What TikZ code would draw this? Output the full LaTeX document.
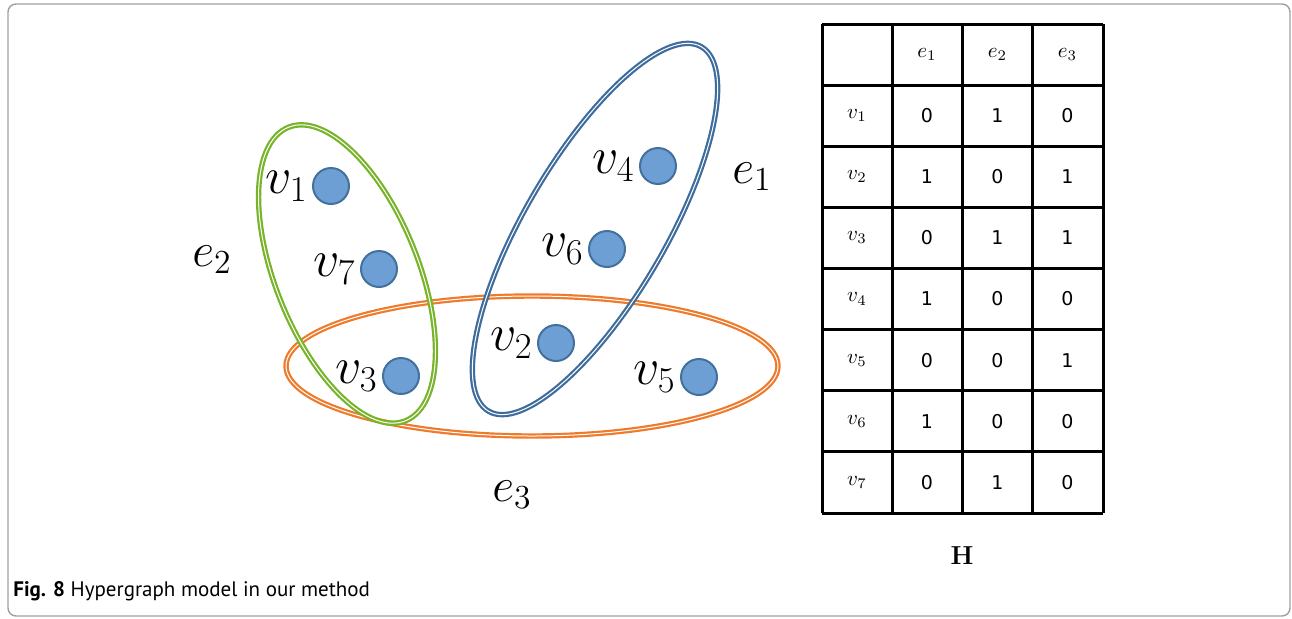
\RequirePackage{fix-cm}
\documentclass[tikz,border=0pt]{standalone}
\usepackage{fontspec}
\usepackage{tikz}
\usetikzlibrary{positioning}
\newfontfamily\capfont{PT Sans}
\newfontfamily\cellfont{DejaVu Sans}
\definecolor{VertexBlue}{HTML}{6E9FD4}
\definecolor{VertexLine}{HTML}{41719C}
\definecolor{EdgeGreen}{HTML}{78B42A}
\definecolor{EdgeBlue}{HTML}{3E6C9C}
\definecolor{EdgeOrange}{HTML}{EE7B2C}

\begin{document}
\begin{tikzpicture}[
    x=0.5pt,
    y=-0.5pt,
    vertex/.style={
        circle,
        fill=VertexBlue,
        draw=VertexLine,
        line width=1pt,
        minimum size=18pt,
        inner sep=0pt
    },
    vlabel/.style={
        inner sep=0pt,
        font=\fontsize{26}{30}\selectfont
    },
    elabel/.style={
        inner sep=0pt,
        font=\fontsize{24}{28}\selectfont
    },
    hyperedge/.style={
        line width=1.1pt,
        double=white,
        double distance=0.5pt
    },
    cell/.style={
        inner sep=0pt,
        font=\cellfont\fontsize{9.5}{11}\selectfont
    },
    head/.style={
        inner sep=0pt,
        font=\fontsize{10.5}{12}\selectfont
    },
    grid/.style={
        draw=black,
        line width=1.5pt
    }
]

\useasboundingbox (0,0) rectangle (1292,618);
\draw[gray!75, line width=0.7pt, rounded corners=4pt] (8,4) rectangle (1290,616);

% hyperedges
\draw[hyperedge, EdgeOrange] (532,366) ellipse [x radius=246, y radius=70];
\draw[hyperedge, EdgeGreen, rotate around={-68.3:(347,274)}]
    (347,274) ellipse [x radius=158, y radius=71.5];
\draw[hyperedge, EdgeBlue, rotate around={59.7:(595,229)}]
    (595,229) ellipse [x radius=211, y radius=70.5];

% vertices
\node[vertex] (v1) at (331,186) {};
\node[vertex] (v2) at (556,343) {};
\node[vertex] (v3) at (401,376) {};
\node[vertex] (v4) at (658,166) {};
\node[vertex] (v5) at (699,377) {};
\node[vertex] (v6) at (607,249) {};
\node[vertex] (v7) at (379,269) {};

\node[vlabel, left=2pt of v1] (l1) {$v_1$};
\node[vlabel, left=2pt of v2] (l2) {$v_2$};
\node[vlabel, left=2pt of v3] (l3) {$v_3$};
\node[vlabel, left=2pt of v4] (l4) {$v_4$};
\node[vlabel, left=2pt of v5] (l5) {$v_5$};
\node[vlabel, left=2pt of v6] (l6) {$v_6$};
\node[vlabel, left=2pt of v7] (l7) {$v_7$};

\node[elabel] (e1) at (752,177) {$e_1$};
\node[elabel] (e2) at (212,260) {$e_2$};
\node[elabel] (e3) at (512,495) {$e_3$};

% incidence matrix
\foreach \k in {0,...,4}
    \draw[grid] (822+70.25*\k,24) -- (822+70.25*\k,513);
\foreach \k in {0,...,8}
    \draw[grid] (822,24+61.125*\k) -- (1103,24+61.125*\k);

\node[head] (h1) at (927,54.5) {$e_1$};
\node[head] (h2) at (997.5,54.5) {$e_2$};
\node[head] (h3) at (1067.5,54.5) {$e_3$};

\foreach \v/\ea/\eb/\ec in {1/0/1/0,2/1/0/1,3/0/1/1,4/1/0/0,5/0/0/1,6/1/0/0,7/0/1/0} {
    \node[head] (r\v) at (857,54.5+61.125*\v) {$v_{\v}$};
    \node[cell] (r\v-1) at (927,54.5+61.125*\v) {\ea};
    \node[cell] (r\v-2) at (997.5,54.5+61.125*\v) {\eb};
    \node[cell] (r\v-3) at (1067.5,54.5+61.125*\v) {\ec};
}

\node[font=\bfseries\fontsize{13}{15}\selectfont, inner sep=0pt] (H) at (962,556) {H};

\node[anchor=base west, inner sep=0pt, font=\capfont\fontsize{10.5}{12}\selectfont]
    (caption) at (13,596) {\textbf{Fig. 8} Hypergraph model in our method};

\end{tikzpicture}
\end{document}
